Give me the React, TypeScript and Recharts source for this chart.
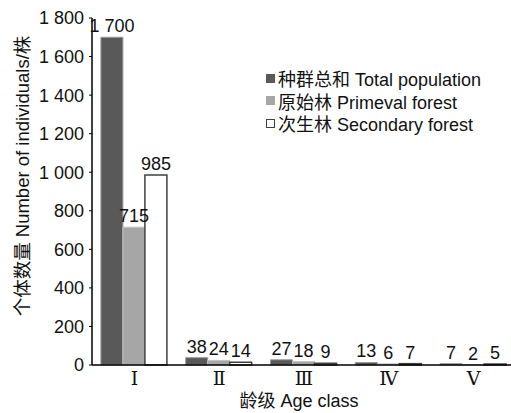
import { BarChart, Bar, XAxis, YAxis, Legend, LabelList, Label } from 'recharts';

const ageClasses = ['Ⅰ', 'Ⅱ', 'Ⅲ', 'Ⅳ', 'Ⅴ'];
const totalPopulation = [1700, 38, 27, 13, 7];
const primevalForest = [715, 24, 18, 6, 2];
const secondaryForest = [985, 14, 9, 7, 5];
const yTicks = [0, 200, 400, 600, 800, 1000, 1200, 1400, 1600, 1800];

const seriesNames = ['种群总和 Total population', '原始林 Primeval forest', '次生林 Secondary forest'];

const data = ageClasses.map((age, i) => ({
    age,
    total: totalPopulation[i],
    primeval: primevalForest[i],
    secondary: secondaryForest[i],
}));

const FONT = 'Arial, "Liberation Sans", "Noto Sans CJK SC", sans-serif';

const fmt = (v: any) => {
    const n = Number(v);
    if (n >= 1000) return `${Math.floor(n / 1000)} ${String(n % 1000).padStart(3, '0')}`;
    return String(n);
};

// value labels drawn without wrapping
const renderValue = (props: any) => {
    const { x, y, width, value } = props;
    return (
        <text x={Number(x) + Number(width) / 2} y={Number(y) - 5} textAnchor="middle" fontSize={18} fontFamily={FONT} fill="#111">
            {fmt(value)}
        </text>
    );
};

const legendItems = [
    { name: seriesNames[0], fill: '#595959', stroke: '#595959' },
    { name: seriesNames[1], fill: '#a6a6a6', stroke: '#a6a6a6' },
    { name: seriesNames[2], fill: '#ffffff', stroke: '#404040' },
];

const renderLegend = () => (
    <div style={{ fontFamily: FONT, fontSize: 18, color: '#111' }}>
        {legendItems.map((it) => (
            <div key={it.name} style={{ display: 'flex', alignItems: 'center', height: 22.5, whiteSpace: 'nowrap' }}>
                <span style={{ display: 'inline-block', width: 7, height: 7, background: it.fill, border: `1px solid ${it.stroke}`, marginRight: 3 }} />
                <span>{it.name}</span>
            </div>
        ))}
    </div>
);

const App = () => {
    return (
        <div style={{ position: 'absolute', left: 0, top: 0, width: 511, height: 413, overflow: 'hidden', background: '#fff' }}>
            <BarChart
                width={520}
                height={413}
                data={data}
                margin={{ top: 18, right: 4, left: 0, bottom: 0 }}
                barCategoryGap="10.5%"
                barGap={0}
            >
                <XAxis
                    dataKey="age"
                    height={48}
                    axisLine={{ stroke: '#000', strokeWidth: 1.5 }}
                    tickLine={false}
                    tickSize={0}
                    tickMargin={7}
                    tick={{ fontSize: 19, fill: '#111', fontFamily: '"Liberation Serif", "DejaVu Serif", serif' }}
                >
                    <Label
                        content={() => (
                            <text x={299} y={407} textAnchor="middle" fontSize={18} fontFamily={FONT} fill="#111">
                                龄级 Age class
                            </text>
                        )}
                    />
                </XAxis>
                <YAxis
                    width={92}
                    domain={[0, 1800]}
                    ticks={yTicks}
                    interval={0}
                    tickFormatter={fmt}
                    axisLine={{ stroke: '#000', strokeWidth: 1.5 }}
                    tickLine={{ stroke: '#000' }}
                    tickSize={3}
                    tickMargin={5}
                    tick={{ fontSize: 18, fill: '#111', fontFamily: FONT }}
                >
                    <Label
                        content={() => (
                            <text
                                x={22}
                                y={176}
                                textAnchor="middle"
                                dominantBaseline="central"
                                fontSize={18.5}
                                fontFamily={FONT}
                                fill="#111"
                                transform="rotate(-90 22 176)"
                            >
                                个体数量 Number of individuals/株
                            </text>
                        )}
                    />
                </YAxis>
                <Legend
                    layout="vertical"
                    align="center"
                    verticalAlign="middle"
                    content={renderLegend}
                    wrapperStyle={{ top: 67, left: 266, width: 245 }}
                />
                <Bar dataKey="total" name={seriesNames[0]} fill="#595959" stroke="#9a9a9a" strokeWidth={1} isAnimationActive={false}>
                    <LabelList dataKey="total" content={renderValue} />
                </Bar>
                <Bar dataKey="primeval" name={seriesNames[1]} fill="#a6a6a6" stroke="#c4c4c4" strokeWidth={1} isAnimationActive={false}>
                    <LabelList dataKey="primeval" content={renderValue} />
                </Bar>
                <Bar dataKey="secondary" name={seriesNames[2]} fill="#ffffff" stroke="#404040" strokeWidth={1.5} isAnimationActive={false}>
                    <LabelList dataKey="secondary" content={renderValue} />
                </Bar>
            </BarChart>
        </div>
    );
};

export default App;
